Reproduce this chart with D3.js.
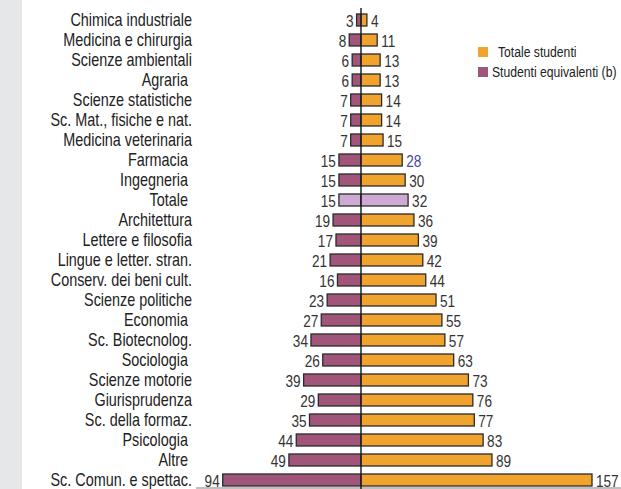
<!DOCTYPE html>
<html>
<head>
<meta charset="utf-8">
<script src="https://cdn.jsdelivr.net/npm/d3@7"></script>
<style>
  body { margin: 0; background: #fff; }
  svg { display: block; font-family: "Liberation Sans", Arial, sans-serif; }
</style>
</head>
<body>
<div id="viz"></div>
<script>
const categories = ['Chimica industriale', 'Medicina e chirurgia', 'Scienze ambientali', 'Agraria ',
  'Scienze statistiche', 'Sc. Mat., fisiche e nat.', 'Medicina veterinaria', 'Farmacia ',
  'Ingegneria ', 'Totale ', 'Architettura', 'Lettere e filosofia', 'Lingue e letter. stran.',
  'Conserv. dei beni cult.', 'Scienze politiche', 'Economia ', 'Sc. Biotecnolog.', 'Sociologia ',
  'Scienze motorie', 'Giurisprudenza', 'Sc. della formaz.', 'Psicologia ', 'Altre ', 'Sc. Comun. e spettac.'];
const totaleStudenti = [4, 11, 13, 13, 14, 14, 15, 28, 30, 32, 36, 39, 42, 44, 51, 55, 57, 63, 73, 76, 77, 83, 89, 157];
const studentiEquivalenti = [3, 8, 6, 6, 7, 7, 7, 15, 15, 15, 19, 17, 21, 16, 23, 27, 34, 26, 39, 29, 35, 44, 49, 94];
const legendLabels = ['Totale studenti', 'Studenti equivalenti (b)'];

const width = 621, height = 489;
const axisX = 361;
const narrow = 0.8; // condensed look
const orange = '#f0a42e', purple = '#a2557b', lilac = '#cea9d3';

const svg = d3.select('#viz').append('svg')
  .attr('width', width).attr('height', height);

// grey strip on the left
svg.append('rect').attr('x', 0).attr('y', 0).attr('width', 22).attr('height', height).attr('fill', '#e6e7e8');

const y = d3.scaleBand()
  .domain(categories)
  .range([10, 490])
  .paddingInner(0.4)
  .paddingOuter(0.2);

const xRight = d3.scaleLinear().domain([0, 157]).range([axisX, axisX + 231]);
const xLeft = d3.scaleLinear().domain([0, 157]).range([axisX, axisX - 231]);

const rows = categories.map((c, i) => ({ cat: c, tot: totaleStudenti[i], eq: studentiEquivalenti[i] }));
const isTot = (d) => d.cat.trim() === 'Totale';
const midY = (d) => y(d.cat) + y.bandwidth() / 2;

// bottom grey line
svg.append('line').attr('x1', 196).attr('x2', width).attr('y1', 488).attr('y2', 488)
  .attr('stroke', '#aaa').attr('stroke-width', 1.5);

// category labels
svg.append('g').selectAll('text').data(rows).enter().append('text')
  .attr('transform', (d) => `translate(192,${midY(d)}) scale(${narrow},1)`)
  .attr('dy', '0.36em')
  .attr('text-anchor', 'end')
  .attr('font-size', 18)
  .attr('fill', '#222')
  .style('white-space', 'pre')
  .text((d) => d.cat);

// left bars
svg.append('g').selectAll('rect').data(rows).enter().append('rect')
  .attr('x', (d) => xLeft(d.eq))
  .attr('y', (d) => y(d.cat))
  .attr('width', (d) => axisX - xLeft(d.eq))
  .attr('height', y.bandwidth())
  .attr('fill', (d) => isTot(d) ? lilac : purple)
  .attr('stroke', '#2a2a2a')
  .attr('stroke-width', 1.3);

// right bars
svg.append('g').selectAll('rect').data(rows).enter().append('rect')
  .attr('x', axisX)
  .attr('y', (d) => y(d.cat))
  .attr('width', (d) => xRight(d.tot) - axisX)
  .attr('height', y.bandwidth())
  .attr('fill', (d) => isTot(d) ? lilac : orange)
  .attr('stroke', '#2a2a2a')
  .attr('stroke-width', 1.3);

// value labels
svg.append('g').selectAll('text').data(rows).enter().append('text')
  .attr('transform', (d) => `translate(${xLeft(d.eq) - 3},${midY(d) + 1}) scale(${narrow},1)`)
  .attr('dy', '0.36em')
  .attr('text-anchor', 'end')
  .attr('font-size', 17)
  .attr('fill', '#333')
  .text((d) => d.eq);

svg.append('g').selectAll('text').data(rows).enter().append('text')
  .attr('transform', (d) => `translate(${xRight(d.tot) + 4},${midY(d) + 1}) scale(${narrow},1)`)
  .attr('dy', '0.36em')
  .attr('font-size', 17)
  .attr('fill', (d) => d.cat.trim() === 'Farmacia' ? '#4a4aa8' : '#333')
  .text((d) => d.tot);

// central axis
svg.append('line').attr('x1', axisX).attr('x2', axisX).attr('y1', 8).attr('y2', height)
  .attr('stroke', '#222').attr('stroke-width', 1.5);

// legend
const legend = svg.append('g');
const legendColors = [orange, purple];
const legendTextX = [498, 492];
legendLabels.forEach((label, i) => {
  legend.append('rect').attr('x', 478).attr('y', 47 + i * 20).attr('width', 10).attr('height', 10)
    .attr('fill', legendColors[i]);
  legend.append('text')
    .attr('transform', `translate(${legendTextX[i]},${52 + i * 20}) scale(0.87,1)`)
    .attr('dy', '0.36em')
    .attr('font-size', 14).attr('fill', '#222').text(label);
});
</script>
</body>
</html>
